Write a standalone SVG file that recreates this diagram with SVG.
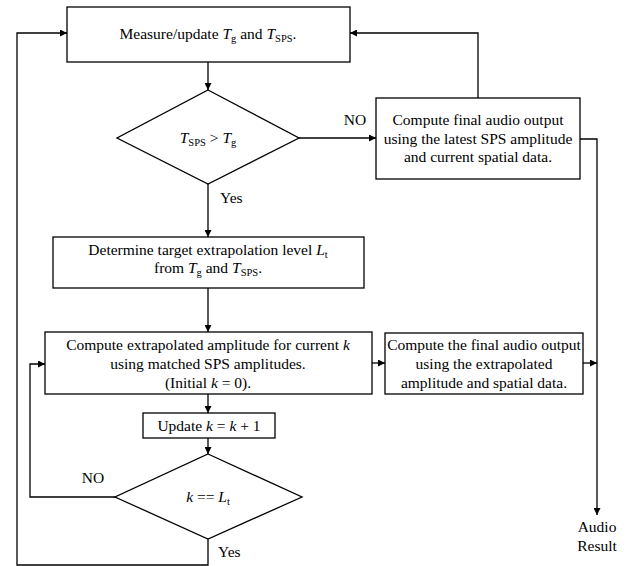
<svg xmlns="http://www.w3.org/2000/svg" width="635" height="566" viewBox="0 0 635 566" font-family="Liberation Serif, serif" font-size="15.5">
<style>
.box{fill:#fff;stroke:#000;stroke-width:1.3}
.ln{fill:none;stroke:#000;stroke-width:1.3}
text{fill:#000}
.c{text-anchor:middle}
.i{font-style:italic}
.s{font-size:10.5px}
</style>
<defs>
<marker id="ah" viewBox="0 0 10 10" refX="10" refY="5" markerWidth="8" markerHeight="7" markerUnits="userSpaceOnUse" orient="auto">
<path d="M0,0 L10,5 L0,10 z" fill="#000"/>
</marker>
</defs>
<g id="connectors">
<path class="ln" d="M208,62 V90" marker-end="url(#ah)"/>
<path class="ln" d="M299,138 H376" marker-end="url(#ah)"/>
<path class="ln" d="M478,98 V33 H350" marker-end="url(#ah)"/>
<path class="ln" d="M580,139 H597 V515" marker-end="url(#ah)"/>
<path class="ln" d="M208,184 V237" marker-end="url(#ah)"/>
<path class="ln" d="M208,288 V332" marker-end="url(#ah)"/>
<path class="ln" d="M372,363 H385" marker-end="url(#ah)"/>
<path class="ln" d="M583,363 H597" marker-end="url(#ah)"/>
<path class="ln" d="M208,394 V413" marker-end="url(#ah)"/>
<path class="ln" d="M208,438 V454" marker-end="url(#ah)"/>
<path class="ln" d="M115,497 H30 V364 H45" marker-end="url(#ah)"/>
<path class="ln" d="M208,539 V565 H17 V33 H67" marker-end="url(#ah)"/>
<text class="c" x="355" y="125">NO</text>
<text x="220" y="203">Yes</text>
<text class="c" x="93" y="483">NO</text>
<text x="218" y="557">Yes</text>
<text class="c" x="597" y="532">Audio</text>
<text class="c" x="597" y="551">Result</text>
</g>
<g id="measure">
<rect class="box" x="67" y="7" width="283" height="55"/>
<text class="c" x="208" y="39">Measure/update <tspan class="i">T</tspan><tspan class="s" dy="3">g</tspan><tspan dy="-3"> and </tspan><tspan class="i">T</tspan><tspan class="s" dy="3">SPS</tspan><tspan dy="-3">.</tspan></text>
</g>
<g id="decision1">
<polygon class="box" points="208,90 299,138 208,184 117,138"/>
<text class="c" x="208" y="143"><tspan class="i">T</tspan><tspan class="s" dy="3">SPS</tspan><tspan dy="-3"> &gt; </tspan><tspan class="i">T</tspan><tspan class="s" dy="3">g</tspan></text>
</g>
<g id="final1">
<rect class="box" x="376" y="98" width="204" height="81"/>
<text class="c" x="478" y="125">Compute final audio output</text>
<text class="c" x="478" y="144">using the latest SPS amplitude</text>
<text class="c" x="478" y="162">and current spatial data.</text>
</g>
<g id="determine">
<rect class="box" x="53" y="237" width="311" height="51"/>
<text class="c" x="208" y="255">Determine target extrapolation level <tspan class="i">L</tspan><tspan class="s" dy="3">t</tspan></text>
<text class="c" x="208" y="273">from <tspan class="i">T</tspan><tspan class="s" dy="3">g</tspan><tspan dy="-3"> and </tspan><tspan class="i">T</tspan><tspan class="s" dy="3">SPS</tspan><tspan dy="-3">.</tspan></text>
</g>
<g id="extrapolate">
<rect class="box" x="45" y="332" width="327" height="62"/>
<text class="c" x="208" y="350">Compute extrapolated amplitude for current <tspan class="i">k</tspan></text>
<text class="c" x="208" y="369">using matched SPS amplitudes.</text>
<text class="c" x="208" y="388">(Initial <tspan class="i">k</tspan> = 0).</text>
</g>
<g id="final2">
<rect class="box" x="385" y="333" width="198" height="61"/>
<text class="c" x="484" y="350">Compute the final audio output</text>
<text class="c" x="484" y="369">using the extrapolated</text>
<text class="c" x="484" y="388">amplitude and spatial data.</text>
</g>
<g id="update">
<rect class="box" x="143" y="413" width="132" height="25"/>
<text class="c" x="209" y="431">Update <tspan class="i">k</tspan> = <tspan class="i">k</tspan> + 1</text>
</g>
<g id="decision2">
<polygon class="box" points="208,454 302,497 208,539 115,497"/>
<text class="c" x="208" y="502"><tspan class="i">k</tspan> == <tspan class="i">L</tspan><tspan class="s" dy="3">t</tspan></text>
</g>
</svg>
